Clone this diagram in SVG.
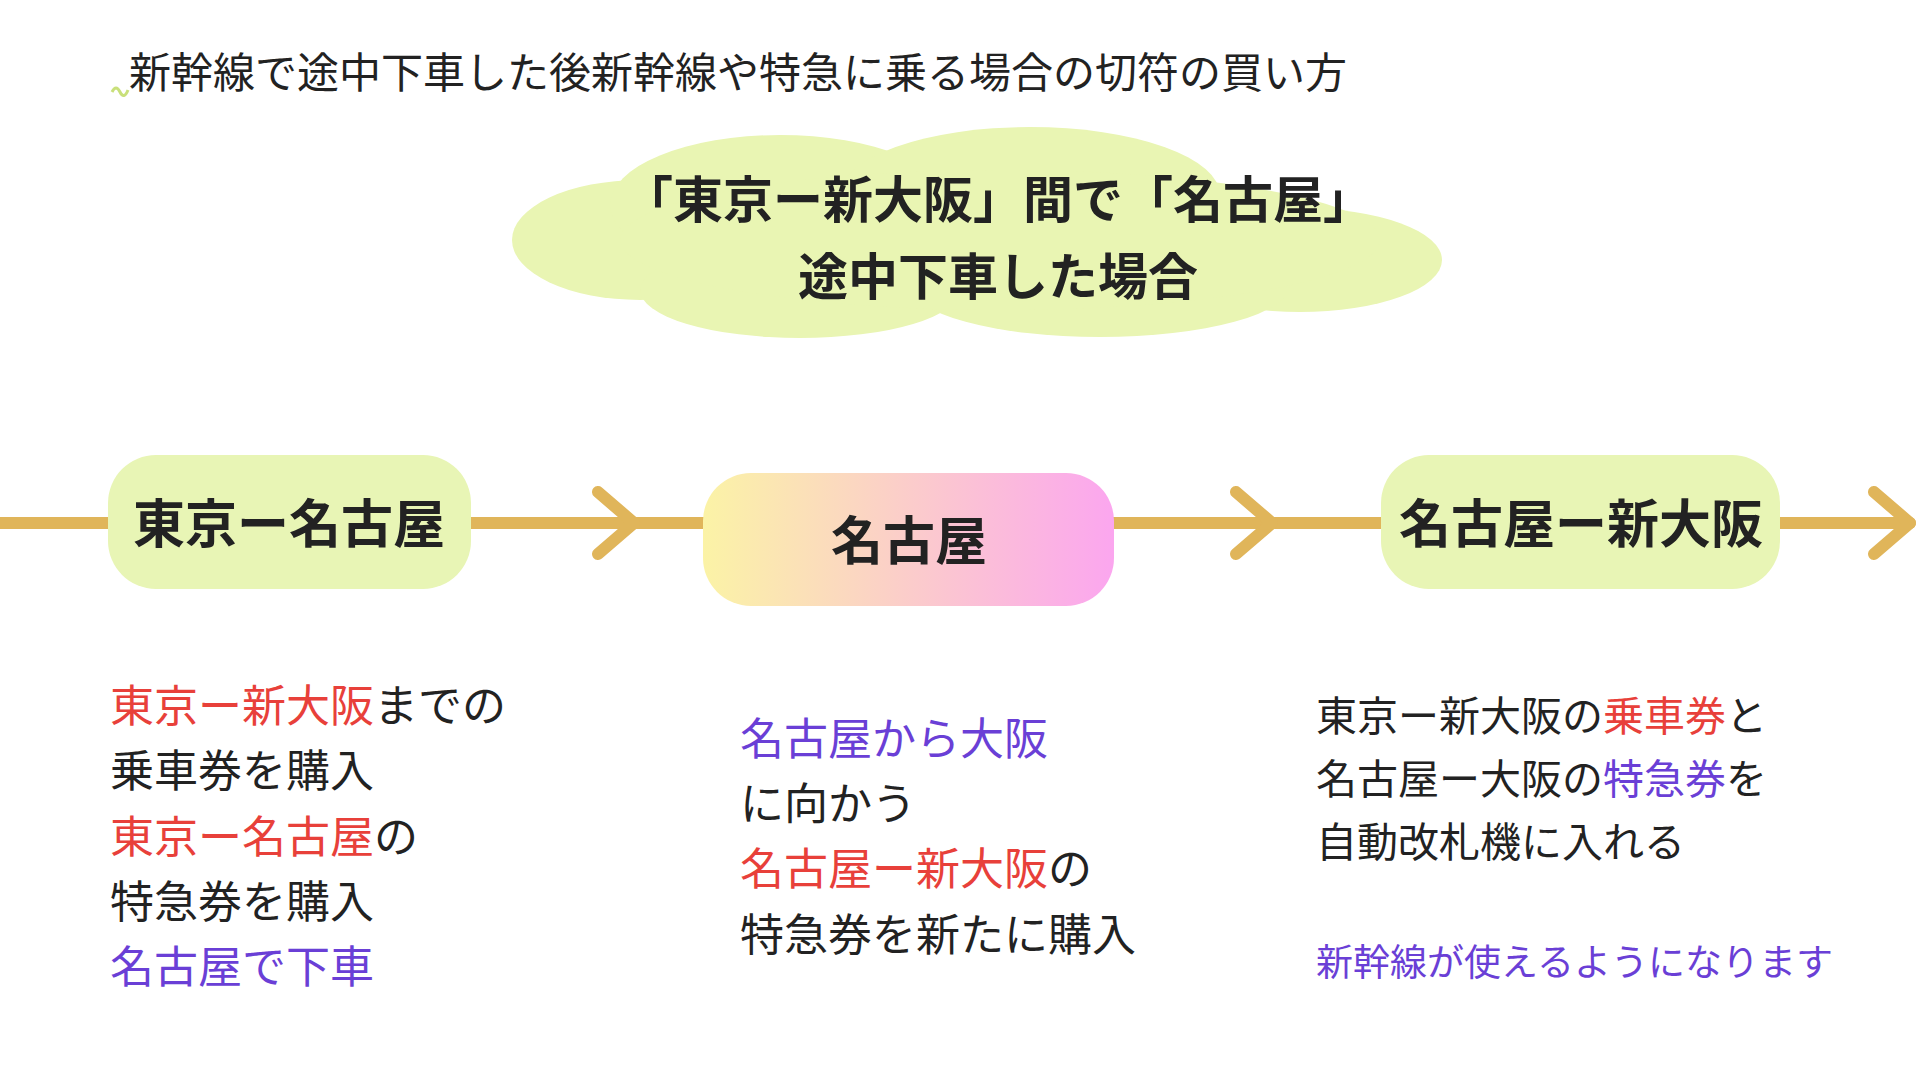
<svg xmlns="http://www.w3.org/2000/svg" width="1920" height="1080" viewBox="0 0 1920 1080">
<defs>
<style>
text{font-family:"Noto Sans CJK JP","Noto Sans",sans-serif;fill:#222}
.b{font-weight:700}
.r{fill:#E8403A}.p{fill:#6A3FD6}
.box{fill:#E8F5B5}
.arr{fill:none;stroke:#E0B55A;stroke-width:12;stroke-linecap:round;stroke-linejoin:round}
</style>
<linearGradient id="g" x1="0" x2="1" y1="0" y2="0"><stop offset="0" stop-color="#FBF3A6"/><stop offset="1" stop-color="#FBA6EF"/></linearGradient>
</defs>
<rect width="1920" height="1080" fill="#fff"/>
<path d="M112 92 q4 -8 8 0 q4 8 8 -2" fill="none" stroke="#C9E07A" stroke-width="3"/>
<text x="129" y="88" font-size="42">新幹線で途中下車した後新幹線や特急に乗る場合の切符の買い方</text>
<g id="cloud" fill="#E9F5B3">
<ellipse cx="640" cy="240" rx="128" ry="60"/>
<ellipse cx="780" cy="205" rx="170" ry="70"/>
<ellipse cx="1030" cy="195" rx="190" ry="68"/>
<ellipse cx="1300" cy="260" rx="142" ry="52"/>
<ellipse cx="800" cy="290" rx="160" ry="48"/>
<ellipse cx="1100" cy="285" rx="190" ry="52"/>
<ellipse cx="1000" cy="240" rx="380" ry="70"/>
<text class="b" x="998" y="218" font-size="50" text-anchor="middle">「東京ー新大阪」間で「名古屋」</text>
<text class="b" x="998" y="295" font-size="50" text-anchor="middle">途中下車した場合</text>
</g>
<g id="connectors">
<path class="arr" d="M0 523H1910"/>
<path class="arr" d="M598 492L634 523L598 554"/>
<path class="arr" d="M1236 492L1272 523L1236 554"/>
<path class="arr" d="M1874 492L1910 523L1874 554"/>
</g>
<g id="n1"><rect class="box" x="108" y="455" width="363" height="134" rx="48"/>
<text class="b" x="289" y="543" font-size="52" text-anchor="middle">東京ー名古屋</text></g>
<g id="n2"><rect x="703" y="473" width="411" height="133" rx="48" fill="url(#g)"/>
<text class="b" x="909" y="560" font-size="52" text-anchor="middle">名古屋</text></g>
<g id="n3"><rect class="box" x="1381" y="455" width="399" height="134" rx="48"/>
<text class="b" x="1581" y="543" font-size="52" text-anchor="middle">名古屋ー新大阪</text></g>
<g id="c1" font-size="44">
<text x="110" y="722" font-size="44"><tspan class="r">東京ー新大阪</tspan>までの</text>
<text x="110" y="787" font-size="44">乗車券を購入</text>
<text x="110" y="853" font-size="44"><tspan class="r">東京ー名古屋</tspan>の</text>
<text x="110" y="918" font-size="44">特急券を購入</text>
<text x="110" y="983" font-size="44" class="p">名古屋で下車</text>
</g>
<g id="c2">
<text x="740" y="755" font-size="44" class="p">名古屋から大阪</text>
<text x="740" y="820" font-size="44">に向かう</text>
<text x="740" y="885" font-size="44"><tspan class="r">名古屋ー新大阪</tspan>の</text>
<text x="740" y="951" font-size="44">特急券を新たに購入</text>
</g>
<g id="c3">
<text x="1316" y="731" font-size="41">東京ー新大阪の<tspan class="r">乗車券</tspan>と</text>
<text x="1316" y="794" font-size="41">名古屋ー大阪の<tspan class="p">特急券</tspan>を</text>
<text x="1316" y="857" font-size="41">自動改札機に入れる</text>
<text x="1316" y="976" font-size="37" class="p">新幹線が使えるようになります</text>
</g>
</svg>
